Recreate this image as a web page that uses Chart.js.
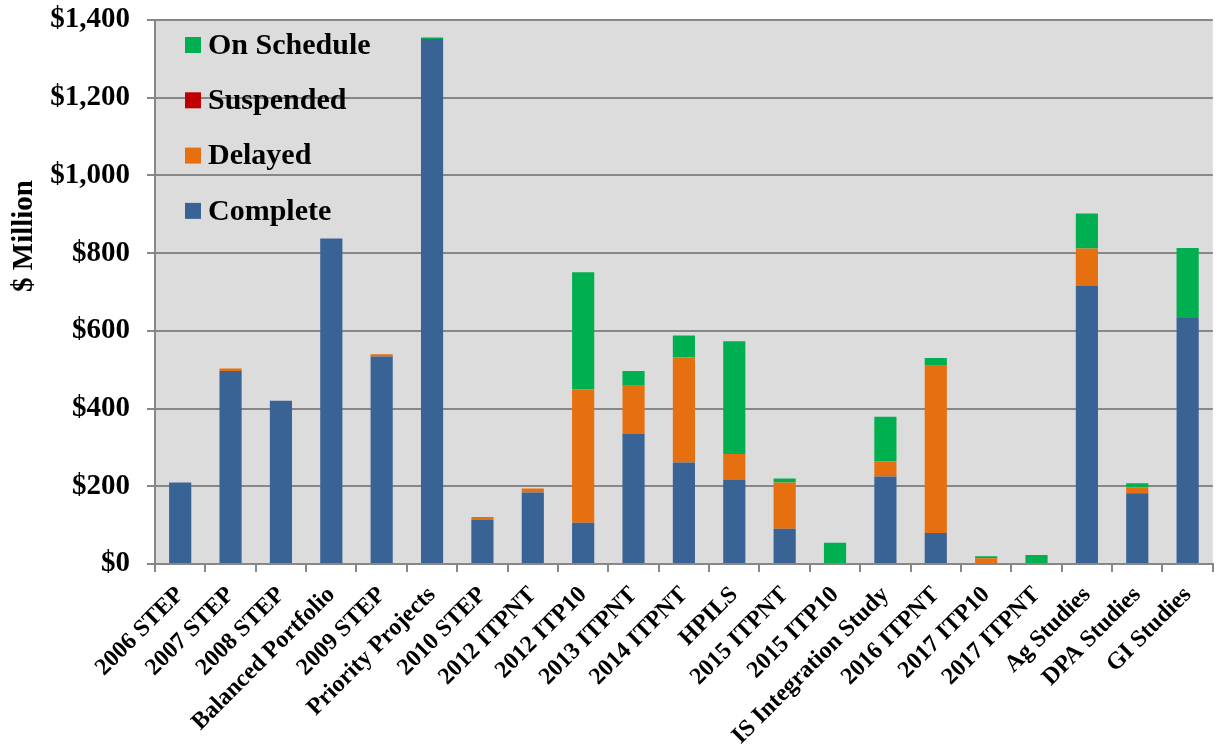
<!DOCTYPE html>
<html>
<head>
<meta charset="utf-8">
<script src="https://cdn.jsdelivr.net/npm/chart.js@4/dist/chart.umd.min.js"></script>
<style>
  body { margin: 0; background: #ffffff; }
</style>
</head>
<body>
<canvas id="projects" width="1217" height="751"></canvas>
<script>
var categories = ["2006 STEP", "2007 STEP", "2008 STEP", "Balanced Portfolio", "2009 STEP",
  "Priority Projects", "2010 STEP", "2012 ITPNT", "2012 ITP10", "2013 ITPNT", "2014 ITPNT",
  "HPILS", "2015 ITPNT", "2015 ITP10", "IS Integration Study", "2016 ITPNT", "2017 ITP10",
  "2017 ITPNT", "Ag Studies", "DPA Studies", "GI Studies"]

var complete   = [210, 497, 420, 838, 534, 1351, 113, 184, 106, 336, 261, 216, 91, 0, 225, 80, 0, 0, 717, 182, 633]
var delayed    = [0, 6, 0, 0, 6, 0, 8, 10, 344, 123, 271, 67, 119, 0, 39, 430, 15, 0, 95, 15, 0]
var suspended  = [0, 0, 0, 0, 0, 0, 0, 0, 0, 0, 0, 0, 0, 0, 0, 0, 0, 0, 0, 0, 0]
var onSchedule = [0, 0, 0, 0, 0, 4, 0, 0, 301, 38, 56, 290, 10, 55, 115, 20, 5, 23, 90, 11, 180]

var yTicks = [0, 200, 400, 600, 800, 1000, 1200, 1400]

var serif = "'Liberation Serif', 'DejaVu Serif', serif"
var gridColor = "#878787"

// grey plot wall behind the bars
var plotBackground = {
  id: "plotBackground",
  beforeDraw: function (chart) {
    var a = chart.chartArea
    var ctx = chart.ctx
    ctx.save()
    ctx.fillStyle = "#dcdcdc"
    ctx.fillRect(a.left, a.top, a.right - a.left, a.bottom - a.top)
    ctx.restore()
  }
}

// legend sits inside the plot, top series first
var insideLegend = {
  id: "insideLegend",
  afterDraw: function (chart) {
    var ctx = chart.ctx
    var sets = chart.data.datasets.slice().reverse()
    ctx.save()
    ctx.font = "bold 30px " + serif
    ctx.textBaseline = "middle"
    ctx.textAlign = "left"
    for (var i = 0; i < sets.length; i++) {
      var y = 45 + i * 55.3
      ctx.fillStyle = sets[i].backgroundColor
      ctx.fillRect(185, y - 8, 16, 16)
      ctx.fillStyle = "#000000"
      ctx.fillText(sets[i].label, 208, y + 1)
    }

    // axis title, placed like the original
    ctx.translate(25, 236)
    ctx.rotate(-Math.PI / 2)
    ctx.textAlign = "center"
    ctx.font = "bold 29px " + serif
    ctx.fillText("$ Million", 0, 0)
    ctx.restore()
  }
}

new Chart(document.getElementById("projects"), {
  type: "bar",
  plugins: [plotBackground, insideLegend],
  data: {
    labels: categories,
    datasets: [
      { label: "Complete", data: complete, backgroundColor: "#3a6395" },
      { label: "Delayed", data: delayed, backgroundColor: "#e6700f" },
      { label: "Suspended", data: suspended, backgroundColor: "#c00000" },
      { label: "On Schedule", data: onSchedule, backgroundColor: "#00b050" }
    ]
  },
  options: {
    responsive: false,
    animation: false,
    layout: { padding: { top: 20, right: 0, left: 0, bottom: 0 } },
    datasets: {
      bar: { categoryPercentage: 1, barPercentage: 0.44, borderWidth: 0 }
    },
    plugins: {
      legend: { display: false },
      tooltip: { enabled: false }
    },
    scales: {
      x: {
        stacked: true,
        grid: { offset: true, drawOnChartArea: false, drawTicks: true, tickLength: 8, color: gridColor, lineWidth: 2 },
        border: { color: gridColor, width: 2 },
        ticks: {
          autoSkip: false,
          maxRotation: 45,
          minRotation: 45,
          padding: 9,
          color: "#000000",
          font: { family: serif, weight: "bold", size: 24 }
        },
        afterFit: function (scale) { scale.height = 187 }
      },
      y: {
        stacked: true,
        min: yTicks[0],
        max: yTicks[yTicks.length - 1],
        afterBuildTicks: function (scale) {
          scale.ticks = yTicks.map(function (v) { return { value: v } })
        },
        grid: { color: gridColor, lineWidth: 2, tickLength: 8 },
        border: { color: gridColor, width: 2 },
        ticks: {
          padding: 17,
          color: "#000000",
          // small lineHeight keeps the top label from pushing the plot down
          font: { family: serif, weight: "bold", size: 29, lineHeight: 0.1 },
          callback: function (v) { return "$" + v.toLocaleString("en-US") }
        },
        afterFit: function (scale) { scale.width = 155 }
      }
    }
  }
})
</script>
</body>
</html>
